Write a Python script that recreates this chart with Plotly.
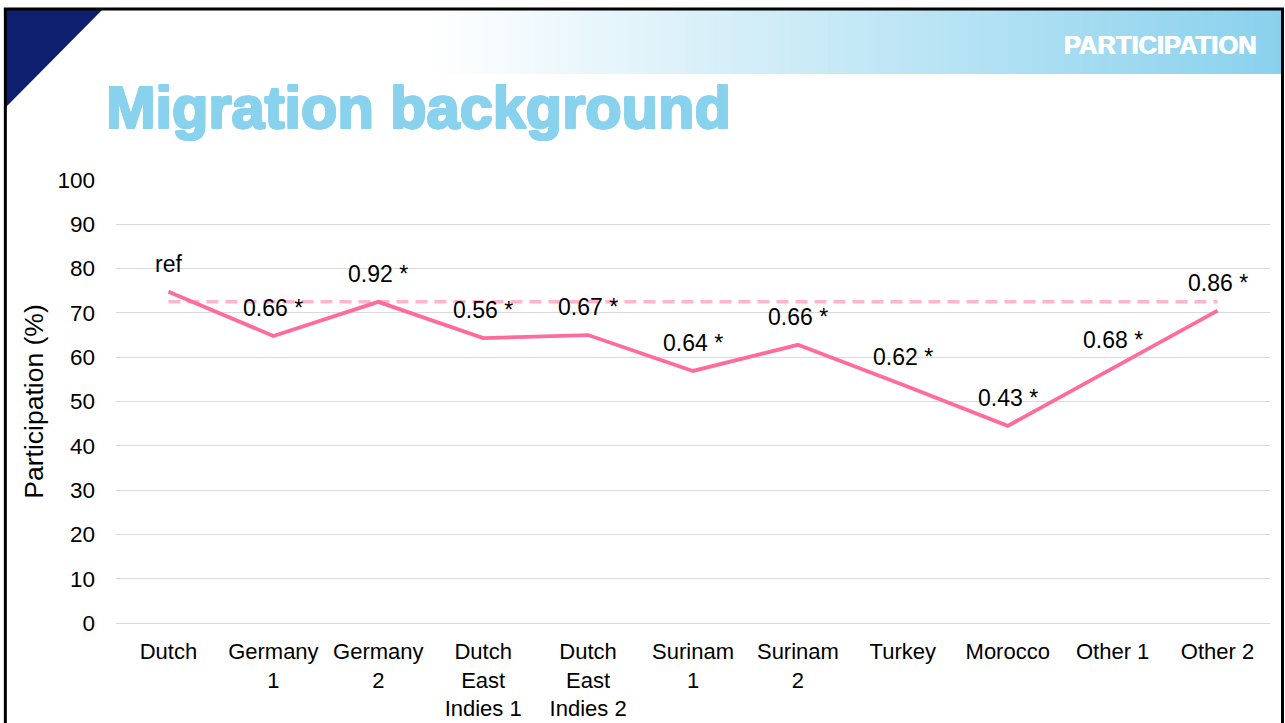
import plotly.graph_objects as go

# ---- data ----
categories = ["Dutch", "Germany<br>1", "Germany<br>2", "Dutch<br>East<br>Indies 1", "Dutch<br>East<br>Indies 2",
              "Surinam<br>1", "Surinam<br>2", "Turkey", "Morocco", "Other 1", "Other 2"]
participation = [74.8, 64.8, 72.5, 64.3, 65.0, 56.9, 62.8, 53.8, 44.5, 57.5, 70.5]
point_labels = ["ref", "0.66 *", "0.92 *", "0.56 *", "0.67 *", "0.64 *", "0.66 *", "0.62 *", "0.43 *", "0.68 *", "0.86 *"]
reference_level = [72.5] * len(categories)
y_ticks = [0, 10, 20, 30, 40, 50, 60, 70, 80, 90, 100]

# ---- geometry (pixels) ----
W, H = 1285, 723
ML, MR, MT, MB = 116, 14.5, 180, 100
PW = W - ML - MR
PH = H - MT - MB


def px(x):
    return (x - ML) / PW


def py(y):
    return (H - MB - y) / PH


FONT = "Liberation Sans, Arial, sans-serif"
LINE_COLOR = "#FF6C9C"
REF_COLOR = "#FFB5CE"
TITLE_BLUE = "#89D2EE"

fig = go.Figure()

fig.add_trace(go.Scatter(
    x=categories, y=reference_level, mode="lines",
    line=dict(color=REF_COLOR, width=3.5, dash="12px,7px"),
    hoverinfo="skip", showlegend=False,
))
fig.add_trace(go.Scatter(
    x=categories, y=participation, mode="lines",
    line=dict(color=LINE_COLOR, width=3.8),
    showlegend=False,
))

annotations = []
for c, v, t in zip(categories, participation, point_labels):
    annotations.append(dict(
        x=c, y=v, xref="x", yref="y", text=t, showarrow=False,
        yshift=28, yanchor="middle", xanchor="center",
        font=dict(family=FONT, size=23, color="#000000"),
    ))

# title and header text
thick = ", ".join("%spx %spx 0px %s" % (dx, dy, TITLE_BLUE)
                  for dx, dy in [(1, 0), (-1, 0), (0, 1), (0, -1), (1, 1), (-1, -1), (1, -1), (-1, 1)])
annotations.append(dict(
    x=px(104), y=py(107), xref="paper", yref="paper", xanchor="left", yanchor="middle",
    text="<b>Migration background</b>", showarrow=False,
    font=dict(family=FONT, size=59.5, color=TITLE_BLUE, shadow=thick),
))
annotations.append(dict(
    x=px(1259), y=py(45), xref="paper", yref="paper", xanchor="right", yanchor="middle",
    text="<b>PARTICIPATION</b>", showarrow=False,
    font=dict(family=FONT, size=25.5, color="#FFFFFF",
              shadow="0.5px 0px 0px #FFFFFF, -0.5px 0px 0px #FFFFFF"),
))

shapes = []
# header gradient band
x0g, x1g = 430, 1282
n = 90
c_end = (137, 209, 237)
for i in range(n):
    a = x0g + (x1g - x0g) * i / n
    b = x0g + (x1g - x0g) * (i + 1) / n + 0.6
    t = (i + 0.5) / n
    col = tuple(round(255 + (ce - 255) * t) for ce in c_end)
    shapes.append(dict(type="rect", xref="paper", yref="paper",
                       x0=px(a), x1=px(min(b, x1g)), y0=py(74), y1=py(10),
                       fillcolor="rgb(%d,%d,%d)" % col, line=dict(width=0), layer="below"))
# navy triangle
shapes.append(dict(type="path", xref="paper", yref="paper",
                   path="M %f,%f L %f,%f L %f,%f Z" % (px(5), py(9), px(103), py(9), px(5), py(108)),
                   fillcolor="#0E1F6F", line=dict(width=0), layer="below"))
# slide border
shapes.append(dict(type="rect", xref="paper", yref="paper",
                   x0=px(5.3), x1=px(1283), y0=py(740), y1=py(9),
                   line=dict(color="#000000", width=3), fillcolor="rgba(0,0,0,0)", layer="above"))

fig.update_layout(
    width=W, height=H,
    margin=dict(l=ML, r=MR, t=MT, b=MB, autoexpand=False),
    paper_bgcolor="#FFFFFF", plot_bgcolor="#FFFFFF",
    font=dict(family=FONT, color="#000000"),
    annotations=annotations, shapes=shapes,
    showlegend=False,
)
fig.update_xaxes(
    type="category", range=[-0.5, 10.5], showgrid=False, zeroline=False, showline=False,
    ticks="", tickfont=dict(family=FONT, size=22, color="#000000"), ticklabelstandoff=13,
    fixedrange=True,
)
fig.update_yaxes(
    range=[0, 100], tickvals=y_ticks, showgrid=True, gridcolor="#D9D9D9", gridwidth=1,
    zeroline=True, zerolinecolor="#D9D9D9", zerolinewidth=1, showline=False, ticks="",
    tickfont=dict(family=FONT, size=22.5, color="#000000"), ticklabelstandoff=20,
    title=dict(text="Participation (%)", font=dict(family=FONT, size=26.5, color="#000000"), standoff=6),
    fixedrange=True,
)

fig.write_html("out.html", config={"displayModeBar": False},
               post_script="document.body.style.margin='0px';document.body.style.overflow='hidden';")
